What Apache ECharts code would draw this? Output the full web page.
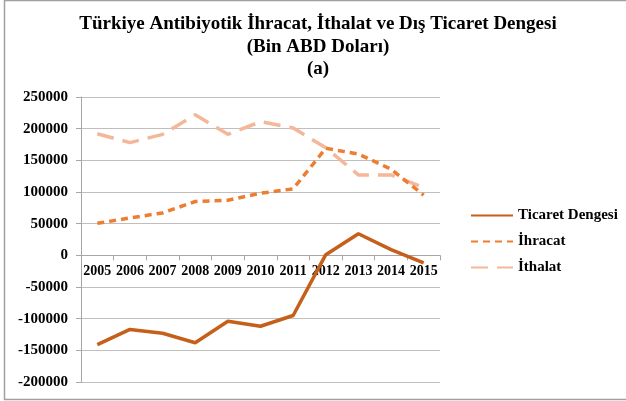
<!DOCTYPE html>
<html><head><meta charset="utf-8">
<script src="https://cdn.jsdelivr.net/npm/echarts@6/dist/echarts.min.js"></script>
<style>html,body{margin:0;padding:0;background:#fff}#c{width:626px;height:401px}</style>
</head><body><div id="c"></div>
<script>
const years = ['2005','2006','2007','2008','2009','2010','2011','2012','2013','2014','2015'];
const ticaret = [-141000,-117000,-123000,-138000,-104000,-112000,-95000,1000,34000,9000,-12000];
const ihracat = [50500,59000,67000,85000,87000,98000,105000,169000,160000,136000,95000];
const ithalat = [192000,178000,191000,222000,191000,211000,201000,170000,127000,127000,107000];
const seriesNames = ['Ticaret Dengesi','İhracat','İthalat'];
const titleLines = ['Türkiye Antibiyotik İhracat, İthalat ve Dış Ticaret Dengesi','(Bin ABD Doları)','(a)'];

const font = 'Liberation Serif, Times New Roman, serif';
const yMin = -200000, yMax = 250000;
const gridTop = 97, gridBottom = 19, H = 401;
const plotH = H - gridTop - gridBottom;
const zeroOffset = -plotH * (0 - yMin) / (yMax - yMin);

const chart = echarts.init(document.getElementById('c'), null, {renderer:'canvas'});
chart.setOption({
  animation:false,
  backgroundColor:'#fff',
  graphic:[{type:'rect',shape:{x:4.5,y:0.5,width:640,height:399},style:{fill:'none',stroke:'#a0a0a0',lineWidth:1.5},silent:true}],
  title:{text:titleLines.join('\n'),left:313,textAlign:'center',top:8,
    textStyle:{fontFamily:font,fontWeight:'bold',fontSize:19,lineHeight:22.5,color:'#000'}},
  grid:{left:81,right:186,top:gridTop,bottom:gridBottom,containLabel:false},
  legend:{orient:'vertical',left:465,top:203,itemWidth:42,itemHeight:10,itemGap:11,
    itemStyle:{opacity:0},
    textStyle:{fontFamily:font,fontWeight:'bold',fontSize:15,color:'#000'},
    data:seriesNames},
  xAxis:{type:'category',data:years,boundaryGap:true,offset:zeroOffset,
    axisLine:{onZero:false,lineStyle:{color:'#a6a6a6',width:1}},
    axisTick:{show:true,length:5,lineStyle:{color:'#a6a6a6'}},
    axisLabel:{fontFamily:font,fontWeight:'bold',fontSize:14,color:'#000',margin:9,interval:0}},
  yAxis:{type:'value',min:yMin,max:yMax,interval:50000,
    axisLine:{show:true,lineStyle:{color:'#a6a6a6'}},
    axisTick:{show:true,length:5,lineStyle:{color:'#a6a6a6'}},
    splitLine:{lineStyle:{color:'#bfbfbf',width:1}},
    axisLabel:{fontFamily:font,fontWeight:'bold',fontSize:15,color:'#000',margin:13,
      formatter:v=>String(v)}},
  series:[
    {name:seriesNames[0],type:'line',data:ticaret,symbol:'none',z:3,
      lineStyle:{color:'#c55f1a',width:3.5},itemStyle:{color:'#c55f1a'}},
    {name:seriesNames[1],type:'line',data:ihracat,symbol:'none',z:2,
      lineStyle:{color:'#ed7d31',width:3.5,type:[7,5]},itemStyle:{color:'#ed7d31'}},
    {name:seriesNames[2],type:'line',data:ithalat,symbol:'none',z:1,
      lineStyle:{color:'#f4b79a',width:3.5,type:[17,9]},itemStyle:{color:'#f4b79a'}}
  ]
});
</script></body></html>
